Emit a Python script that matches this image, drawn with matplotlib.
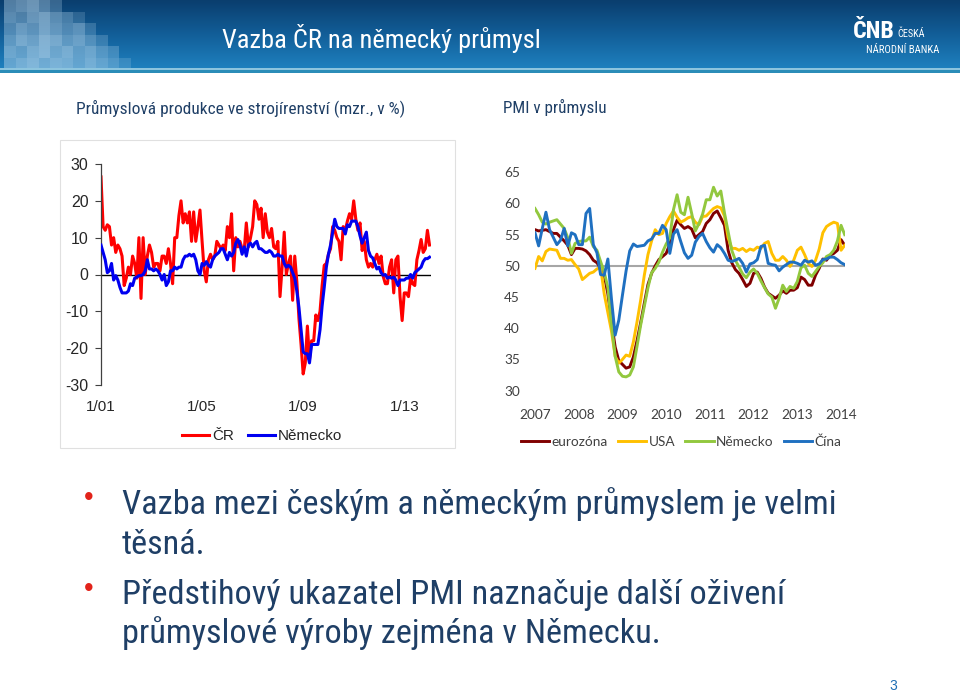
import numpy as np
import matplotlib
matplotlib.use('Agg')
import matplotlib.pyplot as plt
from matplotlib import font_manager
from matplotlib.patches import Rectangle
from matplotlib.colors import LinearSegmentedColormap

# ---------------- data ----------------
# Left chart: machinery industrial production, y/y %, monthly from 1/2001
cr_values = [26.5, 13, 12, 13.5, 13, 8, 10, 6, 8, 7, 5, -3,
             -1, 2, 0, 5, 3, -1, 10, -6.5, 10, 0, 5, 8,
             6, 2, 3, 3, 1, 5, 5, 3, 7, 3, -2.5, 10,
             10, 16, 20, 14, 16.5, 14, 17, 9, 17, 9, 13, 17.5,
             9, 1, -2, 4, 5.5, 4, 5, 9, 8, 7, 8, 6.5,
             13, 10, 16.5, 1, 10, 7.5, 9, 7, 6.5, 14, 7.5, 10,
             13, 20, 19, 15, 18, 10, 16.5, 11.5, 10, 12.5, 7.5, 7,
             9, -6, 2, 11.5, 0, 3, 5, -7, 5, -2, -12, -19,
             -27, -24, -14, -23, -18, -18, -11, -12.5, -10, -3, 2.5, 3,
             5.5, 7, 13, 12, 10, 9, 4, 13, 12, 14.5, 16.5, 15,
             20, 15, 12, 14, 6.5, 9, 4, 2, 3, 2, 4, 5.5,
             3, 5, -0.5, -2.5, -2.5, 2, 4, -5, 4, 5, -6, -12.5,
             -5, -5, -6, -1, -2.5, -3, 4, 6.5, 9.5, 6, 7, 12,
             8]
de_values = [8, 6, 4, 0.5, 1, 3, -1.5, -0.3, -1.5, -3.5, -5, -5,
             -5, -4.5, -2.5, -3, -1, -0.7, -0.3, -0.3, 0, 1, 4, 1.5,
             1.5, 1, 1.5, 1, 0, -1.5, 0, -3, -2, 1, 1, 2,
             1.5, 2, 2, 4, 5, 5, 5.5, 5, 5.5, 4, 1, 0,
             3, 2.5, 3.5, 2.5, 2, 4, 5, 5.5, 6, 7, 7, 5.5,
             4, 6, 5, 6, 8.5, 9.5, 8, 5.5, 7.5, 5, 8, 8.5,
             7.5, 8.5, 9, 7, 7, 6.5, 6, 6, 6.5, 6, 5, 5,
             5.5, 5, 5, 3, 2, 2.5, 2, 0.5, -1, -4.5, -9, -15,
             -21, -21.5, -21.5, -24, -19, -19, -19, -19, -15, -8.5, -3.5, 2,
             5.5, 8, 11.5, 15, 13, 12.5, 12.5, 12.5, 11, 13.5, 13, 14.5,
             14.5, 14.5, 13, 10.5, 8.5, 10, 11.5, 6.5, 5, 4.5, 3, 1.5,
             2, 0.5, -0.2, 0, -1, -0.7, -1, -0.7, -1.5, -3, -1.5, -1.5,
             -1.5, -1, -1, 0, -1, 0.5, 1, 1.5, 2, 3.5, 4.3, 4.3,
             4.7]
left_tick_months = [0, 48, 96, 144]
left_tick_labels = ['1/01', '1/05', '1/09', '1/13']
left_series_names = ['ČR', 'Německo']

# Right chart: manufacturing PMI, monthly from 1/2007
pmi_ez = [55.8, 55.6, 55.7, 55.8, 55.5, 55.2, 55.2, 54.6, 54.0, 53.3, 51.8, 52.8,
          52.8, 52.7, 52.4, 51.8, 50.9, 50.5, 49.6, 48.5, 45.5, 41.0, 37.0, 34.8,
          34.2, 33.6, 33.8, 35.4, 38.0, 40.9, 44.0, 47.0, 48.8, 50.0, 51.0, 51.5,
          52.0, 53.5, 55.8, 57.3, 56.6, 56.0, 56.3, 55.9, 54.5, 55.0, 55.5, 56.8,
          57.4, 58.4, 58.8, 57.7, 56.5, 52.5, 50.5, 49.4, 48.8, 47.8, 46.7, 47.2,
          48.8, 49.0, 48.0, 46.6, 45.6, 45.2, 44.8, 45.3, 46.0, 45.6, 46.1, 46.1,
          46.5, 48.2, 47.8, 46.9, 46.9, 48.5, 49.6, 51.1, 50.9, 51.7, 52.0, 52.5,
          54.2, 53.3]
pmi_us = [49.6, 51.5, 50.8, 52.3, 52.7, 52.6, 52.5, 51.2, 51.2, 50.9, 51.0, 50.2,
          49.5, 47.8, 48.3, 48.8, 49.0, 49.5, 49.8, 45.5, 42.5, 39.5, 35.5, 34.4,
          35.0, 35.7, 35.5, 37.8, 41.0, 44.5, 48.5, 51.8, 54.0, 55.8, 55.0, 55.2,
          56.8, 57.9, 58.8, 57.8, 57.0, 57.3, 57.7, 57.9, 57.0, 56.6, 57.9, 58.0,
          58.6, 59.2, 59.5, 59.3, 58.0, 54.5, 52.8, 52.8, 52.5, 52.8, 52.3, 52.7,
          52.5, 53.0, 52.8, 53.6, 53.9, 52.0, 50.9, 50.9, 51.5, 50.9, 49.9, 50.9,
          52.5, 53.0, 51.8, 50.4, 49.9, 50.9, 52.7, 55.3, 56.3, 56.7, 57.0, 56.8,
          52.5, 53.3]
pmi_de = [59.2, 58.2, 57.0, 56.7, 57.0, 57.2, 57.4, 56.7, 56.0, 54.5, 52.0, 53.6,
          53.9, 54.0, 54.0, 54.6, 53.1, 52.5, 50.7, 49.0, 46.5, 40.5, 35.5, 33.0,
          32.3, 32.2, 32.5, 33.8, 37.1, 40.5, 43.5, 46.5, 48.9, 49.6, 50.6, 52.2,
          53.5, 54.5, 59.0, 61.4, 58.6, 58.2, 61.0, 58.4, 55.6, 56.8, 58.3, 60.6,
          60.6, 62.6, 61.2, 62.0, 58.5, 55.5, 52.5, 50.9, 49.8, 48.7, 48.1, 49.0,
          49.5, 48.8, 47.6, 46.5, 45.5, 45.0, 43.2, 44.8, 46.9, 45.9, 46.7, 46.4,
          47.5, 49.7, 50.1, 48.8, 48.3, 49.1, 49.9, 50.5, 51.5, 51.8, 52.5, 54.0,
          56.5, 55.0]
pmi_cn = [55.3, 53.2, 56.0, 58.6, 55.8, 54.6, 53.4, 54.1, 56.0, 53.2, 55.3, 55.0,
          53.4, 53.4, 58.4, 59.2, 53.4, 52.1, 48.6, 48.5, 51.1, 44.6, 38.9, 41.3,
          45.3, 49.2, 52.4, 53.5, 53.1, 53.2, 53.3, 54.0, 54.3, 55.2, 55.2, 56.5,
          55.8, 52.0, 55.1, 55.8, 53.9, 52.1, 51.2, 51.7, 53.8, 54.7, 55.2, 53.9,
          52.9, 52.2, 53.4, 52.9, 52.0, 50.9, 50.7, 50.9, 51.2, 50.4, 49.0, 50.3,
          50.5, 51.0, 53.1, 53.3, 50.4, 50.2, 50.1, 49.2, 49.8, 50.2, 50.6, 50.6,
          50.4, 50.1, 50.9, 50.6, 50.8, 50.1, 50.3, 51.0, 51.1, 51.4, 51.4, 51.0,
          50.5, 50.2]
right_tick_months = [0, 12, 24, 36, 48, 60, 72, 84]
right_tick_labels = ['2007', '2008', '2009', '2010', '2011', '2012', '2013', '2014']
right_series_names = ['eurozóna', 'USA', 'Německo', 'Čína']

# ---------------- fonts ----------------
avail = {f.name for f in font_manager.fontManager.ttflist}
def pick(*names):
    for n in names:
        if n in avail:
            return n
    return 'DejaVu Sans'
NARROW = pick('Liberation Sans Narrow', 'Arial Narrow', 'Roboto Condensed',
              'Liberation Sans')
ARIAL = pick('Liberation Sans', 'DejaVu Sans')
CAL = pick('Lato', 'Open Sans', 'Liberation Sans')
plt.rcParams['font.family'] = [ARIAL, 'DejaVu Sans']
plt.rcParams['axes.unicode_minus'] = False

W, H = 960, 696
fig = plt.figure(figsize=(W / 100, H / 100), dpi=100)
fig.patch.set_facecolor('white')
renderer = fig.canvas.get_renderer()

def rect(x0, y0, x1, y1):
    return [x0 / W, 1 - y1 / H, (x1 - x0) / W, (y1 - y0) / H]

def fx(x):
    return x / W

def fy(y):
    return 1 - y / H

def fit_text(x, y, s, target_w, fs0=12, **kw):
    t = fig.text(fx(x), fy(y), s, fontsize=fs0, **kw)
    w = t.get_window_extent(renderer).width
    t.set_fontsize(fs0 * target_w / w)
    return t

# ---------------- header ----------------
hdr = fig.add_axes(rect(0, 0, 960, 68))
hdr.axis('off')
cm = LinearSegmentedColormap.from_list('h', ['#0A3E6E', '#125E98', '#1E80BE'])
grad = np.linspace(0, 1, 120)[:, None] * np.ones((1, 10))
hdr.imshow(grad, cmap=cm, aspect='auto', extent=(0, 960, 68, 0))
hdr.set_xlim(0, 960)
hdr.set_ylim(68, 0)
pattern = [
    [0.55, 0.65, 0.75, 0.55, 0.35, 0.0, 0.0, 0.0, 0.0, 0.0, 0.0],
    [0.6, 0.5, 0.7, 0.8, 0.6, 0.45, 0.25, 0.0, 0.0, 0.0, 0.0],
    [0.5, 0.7, 0.6, 0.8, 0.65, 0.5, 0.6, 0.3, 0.0, 0.0, 0.0],
    [0.6, 0.8, 0.7, 0.9, 0.8, 0.6, 0.7, 0.5, 0.3, 0.0, 0.0],
    [0.7, 0.6, 0.8, 0.9, 0.7, 0.8, 0.6, 0.7, 0.5, 0.35, 0.0],
    [0.6, 0.75, 0.85, 0.7, 0.8, 0.75, 0.6, 0.75, 0.6, 0.45, 0.25],
]
sq = 11.5
for r, row in enumerate(pattern):
    for c, a in enumerate(row):
        if a > 0:
            hdr.add_patch(Rectangle((c * sq + 4, r * sq), sq, sq,
                                    facecolor='#B9D7EC', alpha=a * 0.75, lw=0))
fig.add_artist(Rectangle((0, fy(70)), 1, 2 / H, transform=fig.transFigure,
                         facecolor='#8CC4DE', lw=0))
fig.add_artist(Rectangle((0, fy(73)), 1, 3 / H, transform=fig.transFigure,
                         facecolor='#2B8DB8', lw=0))

fit_text(222, 48, 'Vazba ČR na německý průmysl', 318, color='white',
         family=[NARROW, 'DejaVu Sans'], va='baseline')
# logo
fit_text(853, 38, 'ČNB', 42, fs0=20, color='white', fontweight='bold',
         family=[NARROW, 'DejaVu Sans'], va='baseline')
fit_text(897, 37, 'ČESKÁ', 28, fs0=6, color='white',
         family=[NARROW, 'DejaVu Sans'], va='baseline')
fit_text(866, 53, 'NÁRODNÍ BANKA', 73, fs0=6, color='white',
         family=[NARROW, 'DejaVu Sans'], va='baseline')

# ---------------- subtitles ----------------
sub_color = '#1F3F66'
fit_text(76, 113, 'Průmyslová produkce ve strojírenství (mzr., v %)', 327,
         color=sub_color, family=[NARROW, 'DejaVu Sans'], va='baseline')
fit_text(503, 113, 'PMI v průmyslu', 103, color=sub_color,
         family=[NARROW, 'DejaVu Sans'], va='baseline')

# ---------------- left chart ----------------
fig.add_artist(Rectangle((fx(60), fy(448)), (455 - 60) / W, (448 - 140) / H,
                         transform=fig.transFigure, fill=False,
                         edgecolor='#E0E0E0', lw=0.8))
axL = fig.add_axes(rect(101, 164, 431, 385))
mL = np.arange(len(cr_values))
axL.axhline(0, color='black', lw=1.0, zorder=1)
l_cr, = axL.plot(mL, cr_values, color='#FF0000', lw=2.2, zorder=2)
l_de, = axL.plot(mL, de_values, color='#0000F0', lw=2.2, zorder=3)
axL.set_xlim(0, 156.7)
axL.set_ylim(-30, 30)
for s in ['top', 'right', 'bottom']:
    axL.spines[s].set_visible(False)
axL.spines['left'].set_color('#404040')
axL.spines['left'].set_linewidth(0.9)
axL.set_yticks(range(-30, 31, 10))
axL.tick_params(axis='y', direction='out', length=4, width=0.8, color='#404040',
                labelsize=11.5, labelcolor='#262626', pad=5)
axL.set_xticks(left_tick_months)
axL.set_xticklabels(left_tick_labels)
axL.tick_params(axis='x', length=0, labelsize=11, labelcolor='#262626', pad=11)
axL.set_facecolor('none')
fig.legend([l_cr, l_de], left_series_names, loc='center',
           bbox_to_anchor=(fx(262), fy(436)), ncol=2, frameon=False,
           fontsize=11, handlelength=1.8, handletextpad=0.2, columnspacing=0.9,
           labelcolor='#262626')

# ---------------- right chart ----------------
axR = fig.add_axes(rect(535, 172.3, 844.7, 390.6))
mR = np.arange(len(pmi_ez))
axR.axhline(50, color='#A6A6A6', lw=1.5, zorder=1)
r1, = axR.plot(mR, pmi_ez, color='#800000', lw=2.1, zorder=2)
r2, = axR.plot(mR, pmi_us, color='#FFC000', lw=2.1, zorder=3)
r3, = axR.plot(mR, pmi_de, color='#92C83E', lw=2.1, zorder=4)
r4, = axR.plot(mR, pmi_cn, color='#1F70C1', lw=2.1, zorder=5)
axR.set_xlim(0, 85)
axR.set_ylim(30, 65)
for s in axR.spines.values():
    s.set_visible(False)
axR.set_yticks(range(30, 66, 5))
axR.set_xticks(right_tick_months)
axR.set_xticklabels(right_tick_labels)
axR.tick_params(axis='y', length=0, pad=11, labelsize=9.8, labelcolor='#404040')
axR.tick_params(axis='x', length=0, pad=13, labelsize=9.8, labelcolor='#404040')
for lab in axR.get_xticklabels() + axR.get_yticklabels():
    lab.set_family([CAL, 'DejaVu Sans'])
axR.set_facecolor('none')
fig.legend([r1, r2, r3, r4], right_series_names, loc='center',
           bbox_to_anchor=(fx(681), fy(442)), ncol=4, frameon=False,
           prop={'family': [CAL, 'DejaVu Sans'], 'size': 9.8},
           handlelength=2.1, handletextpad=0.15, columnspacing=0.75,
           labelcolor='#404040')

# ---------------- bullet text ----------------
txt_color = '#1F3F66'
t1 = fit_text(122, 514, 'Vazba mezi českým a německým průmyslem je velmi', 716,
              fs0=24, color=txt_color, family=[NARROW, 'DejaVu Sans'], va='baseline')
fs = t1.get_fontsize()
fig.text(fx(122), fy(554), 'těsná.', fontsize=fs, color=txt_color,
         family=[NARROW, 'DejaVu Sans'], va='baseline')
fig.text(fx(122), fy(604), 'Předstihový ukazatel PMI naznačuje další oživení',
         fontsize=fs, color=txt_color, family=[NARROW, 'DejaVu Sans'], va='baseline')
fig.text(fx(122), fy(643), 'průmyslové výroby zejména v Německu.', fontsize=fs,
         color=txt_color, family=[NARROW, 'DejaVu Sans'], va='baseline')
for by in (498, 589):
    fig.text(fx(89), fy(by), '•', fontsize=fs * 0.8, color='#E2231A',
             ha='center', va='center', family=[ARIAL, 'DejaVu Sans'])

fig.text(fx(893), fy(686), '3', fontsize=10, color='#1F6FB5', ha='center',
         va='center', family=[ARIAL, 'DejaVu Sans'])

fig.savefig('out.png', dpi=100, facecolor='white')
